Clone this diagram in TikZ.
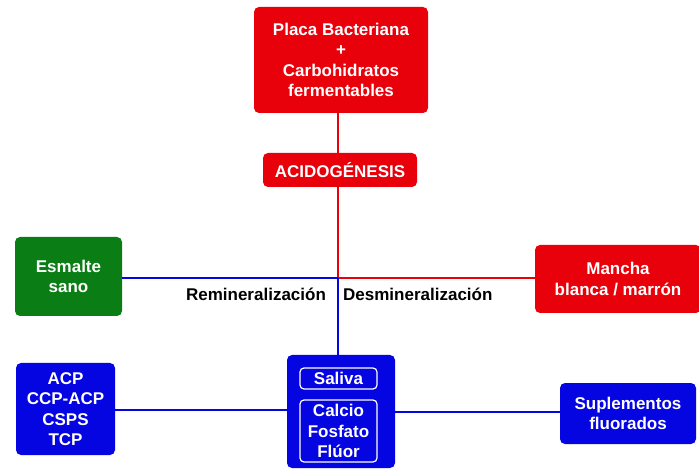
\documentclass[tikz,border=0pt]{standalone}
\usepackage{fontspec}
\setmainfont{Liberation Sans}
\definecolor{cred}{RGB}{232,0,10}
\definecolor{cgreen}{RGB}{10,125,20}
\definecolor{cblue}{RGB}{5,5,225}
\begin{document}
\begin{tikzpicture}[x=1pt,y=-1pt,
  box/.style={rounded corners=5pt, text=white, font=\bfseries\fontsize{17}{20.3}\selectfont, align=center, inner sep=0pt},
  redbox/.style={box, fill=cred},
  greenbox/.style={box, fill=cgreen},
  bluebox/.style={box, fill=cblue},
  inbox/.style={box, draw=white, line width=1.2pt, rounded corners=4pt},
  redline/.style={draw=cred, line width=2pt},
  blueline/.style={draw=cblue, line width=2.2pt},
  lbl/.style={font=\bfseries\fontsize{17}{20}\selectfont, text=black, inner sep=0pt}]
\useasboundingbox (0,0) rectangle (699,470);
\node[redbox, minimum width=174pt, minimum height=106pt] (placa) at (341,60) {Placa Bacteriana\\+\\Carbohidratos\\fermentables};
\node[redbox, minimum width=154pt, minimum height=34pt] (acid) at (340,170) {ACIDOGÉNESIS};
\node[greenbox, minimum width=107pt, minimum height=79pt] (esmalte) at (68.5,276.5) {Esmalte\\sano};
\node[redbox, minimum width=166pt, minimum height=68pt] (mancha) at (618,279) {Mancha\\blanca / marrón};
\node[bluebox, minimum width=99pt, minimum height=92pt] (acp) at (65.5,409) {ACP\\CCP-ACP\\CSPS\\TCP};
\node[bluebox, minimum width=108pt, minimum height=113pt] (centro) at (341,411.5) {};
\node[inbox, minimum width=77pt, minimum height=21pt] (saliva) at (338.5,378.5) {Saliva};
\node[inbox, minimum width=77pt, minimum height=62pt] (calcio) at (338.5,431) {Calcio\\Fosfato\\Flúor};
\node[bluebox, minimum width=136pt, minimum height=61pt] (supl) at (628,413.5) {Suplementos\\fluorados};
\coordinate (j) at (338,278);
\path[redline] (placa.south -| j) -- (acid.north -| j);
\path[redline] (acid.south -| j) -- (j);
\path[blueline] (esmalte.east |- j) -- (j);
\path[redline] (j) -- (mancha.west |- j);
\path[blueline] (j) -- (centro.north -| j);
\path[blueline] (acp.east |- 0,410) -- (centro.west |- 0,410);
\path[blueline] (centro.east |- 0,412) -- (supl.west |- 0,412);
\node[lbl, anchor=center] (remi) at (256,294) {Remineralización};
\node[lbl, anchor=west] (desmi) at (343,294) {Desmineralización};
\end{tikzpicture}
\end{document}
